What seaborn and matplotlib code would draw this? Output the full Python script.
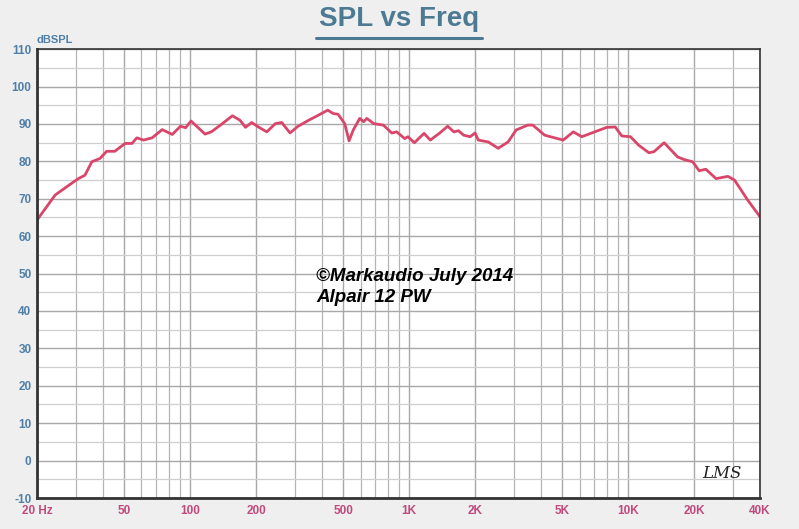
"""
SPL vs Freq response curve (Markaudio Alpair 12 PW), seaborn redraw
"""

import numpy as np
import pandas as pd
import seaborn as sns
import matplotlib.pyplot as plt
from matplotlib.ticker import FixedLocator, LogLocator, NullFormatter

# data
freq_hz = [20, 24.2, 27.3, 30.9, 33.1, 35.6, 38.8, 41.6, 45.3, 50.5, 54.3, 57.1,
           61.3, 67.1, 74.6, 82.9, 90.4, 95.4, 101, 117, 125, 139, 156, 169,
           179, 191, 205, 224, 245, 262, 286, 311, 348, 378, 425, 450, 474,
           508, 532, 556, 595, 620, 641, 689, 763, 833, 877, 955, 987, 1057,
           1170, 1250, 1380, 1500, 1600, 1680, 1775, 1900, 2000, 2070, 2300,
           2550, 2830, 3080, 3480, 3670, 4160, 5050, 5620, 6140, 6820, 7990,
           8730, 9360, 10240, 11190, 12440, 13120, 14600, 16810, 18020, 19700,
           21100, 22640, 25200, 28540, 30600, 35200, 40000]
spl_db = [64.3, 71.0, 73.2, 75.4, 76.3, 79.9, 80.8, 82.7, 82.7, 84.8, 84.8, 86.3,
          85.7, 86.3, 88.5, 87.2, 89.4, 89.0, 90.8, 87.3, 87.9, 89.9, 92.2, 91.0,
          89.1, 90.4, 89.2, 87.9, 90.1, 90.4, 87.6, 89.4, 91.0, 92.1, 93.7, 92.8,
          92.6, 90.1, 85.5, 88.4, 91.5, 90.6, 91.5, 90.1, 89.7, 87.6, 87.9, 86.1,
          86.6, 85.0, 87.5, 85.7, 87.6, 89.4, 87.9, 88.2, 87.0, 86.6, 87.6, 85.7,
          85.2, 83.5, 85.2, 88.4, 89.7, 89.7, 87.0, 85.7, 87.9, 86.6, 87.6, 89.1,
          89.2, 86.8, 86.6, 84.3, 82.3, 82.6, 85.0, 81.2, 80.5, 79.9, 77.5, 77.9,
          75.4, 76.0, 75.0, 69.6, 65.2]

x_ticks = [20, 50, 100, 200, 500, 1000, 2000, 5000, 10000, 20000, 40000]
x_tick_labels = ['20 Hz', '50', '100', '200', '500', '1K', '2K', '5K', '10K', '20K', '40K']
y_ticks = list(range(-10, 111, 10))

df = pd.DataFrame({'freq': freq_hz, 'spl': spl_db})

sns.set_style('white')
plt.rcParams['font.family'] = ['Liberation Sans', 'DejaVu Sans']
plt.rcParams['axes.unicode_minus'] = False

fig = plt.figure(figsize=(7.99, 5.29), dpi=100, facecolor='#efefef')
ax = fig.add_axes([0.0463, 0.0586, 0.9049, 0.8484])
ax.set_facecolor('white')

sns.lineplot(data=df, x='freq', y='spl', color='#d9466a', linewidth=2.0, ax=ax)

ax.set_xscale('log')
ax.set_xlim(20, 40000)
ax.set_ylim(-10, 110)

# grid: decades + log minors, 10 dB majors + 5 dB minors
ax.xaxis.set_major_locator(FixedLocator(x_ticks))
ax.set_xticklabels(x_tick_labels)
ax.xaxis.set_minor_locator(LogLocator(base=10, subs=np.arange(1, 10) * 1.0, numticks=20))
ax.xaxis.set_minor_formatter(NullFormatter())
ax.set_yticks(y_ticks)
ax.set_yticks(list(range(-5, 110, 10)), minor=True)
ax.grid(which='major', color='#a8a8a8', linewidth=1.0)
ax.grid(which='minor', color='#cfcfcf', linewidth=0.9)
ax.xaxis.grid(which='minor', color='#b4b4b4', linewidth=0.9)

ax.tick_params(axis='x', which='both', length=0, pad=5, labelsize=8.5, labelcolor='#c04a7e')
ax.tick_params(axis='y', which='both', length=0, pad=4, labelsize=8.5, labelcolor='#4f7fa8')
for lbl in ax.get_xticklabels() + ax.get_yticklabels():
    lbl.set_fontweight('bold')

for side in ['left', 'bottom', 'right', 'top']:
    ax.spines[side].set_visible(True)
    ax.spines[side].set_color('#333333')
ax.spines['left'].set_linewidth(2.0)
ax.spines['bottom'].set_linewidth(2.0)
ax.spines['top'].set_linewidth(1.2)
ax.spines['right'].set_linewidth(1.2)

ax.set_xlabel('')
ax.set_ylabel('')

fig.text(0.0463, 0.915, 'dBSPL', color='#4f7fa8', fontsize=8, fontweight='bold',
         ha='left', va='bottom')

fig.text(0.499, 0.964, 'SPL vs Freq', color='#4d7a93', fontsize=20,
         fontweight='bold', ha='center', va='center')
fig.add_artist(plt.Line2D([0.395, 0.603], [0.928, 0.928], color='#4d7a93',
                          linewidth=2.2, transform=fig.transFigure))

ax.text(0.386, 0.512, '\u00a9Markaudio July 2014\nAlpair 12 PW', transform=ax.transAxes,
        fontsize=13.5, fontweight='bold', fontstyle='italic', color='black',
        ha='left', va='top', linespacing=1.3)

ax.text(0.975, 0.035, 'LMS', transform=ax.transAxes, fontsize=12, fontstyle='italic',
        color='#222222', ha='right', va='bottom', family='DejaVu Serif')

fig.savefig('out.png', dpi=100, facecolor=fig.get_facecolor())
